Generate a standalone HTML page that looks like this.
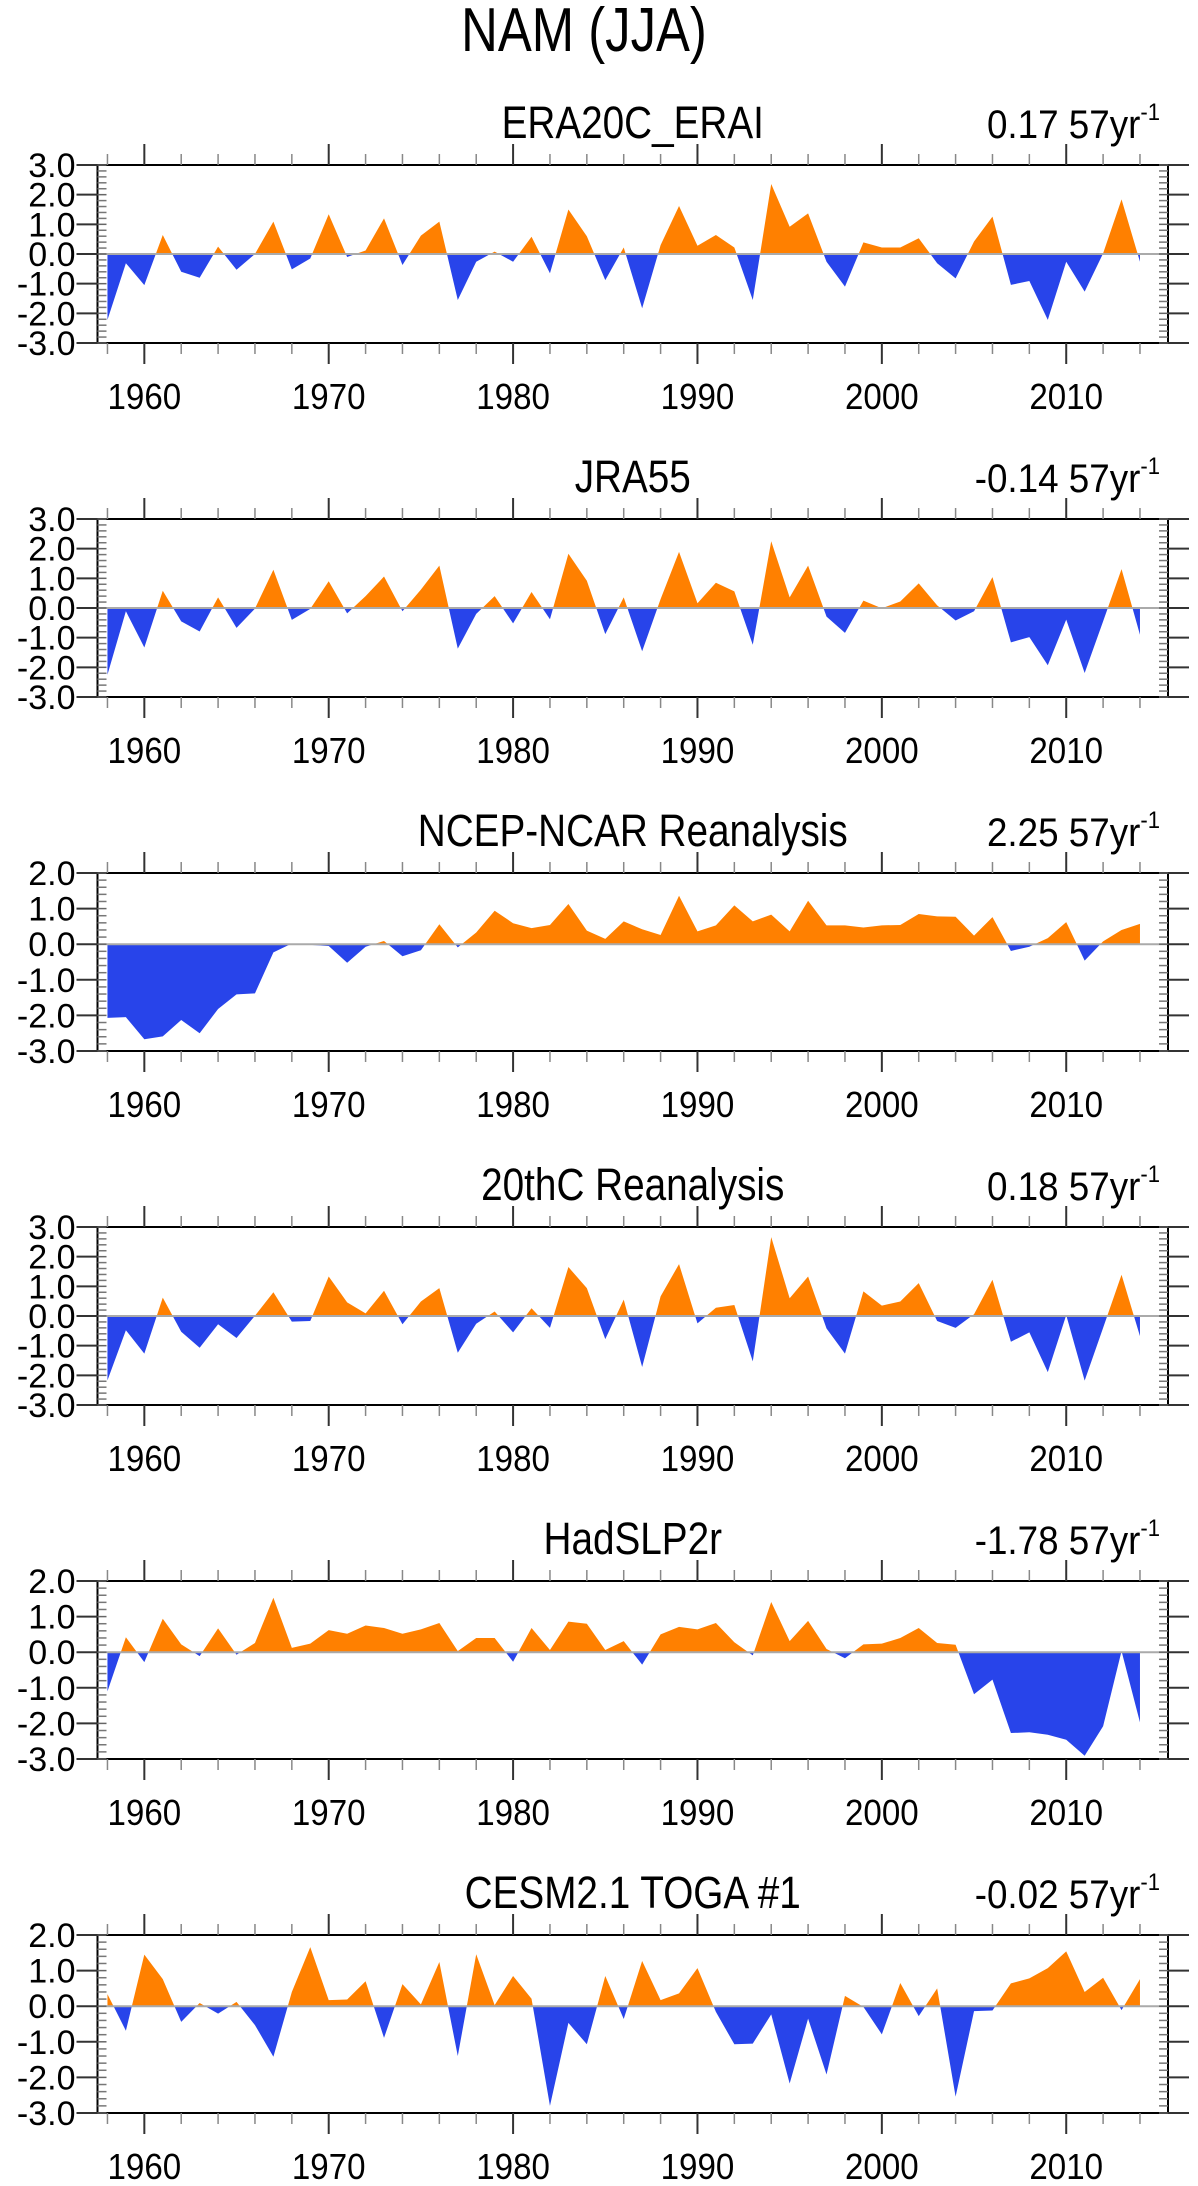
<!DOCTYPE html>
<html><head><meta charset="utf-8">
<style>
html,body{margin:0;padding:0;background:#fff;}
svg{display:block;font-family:"Liberation Sans",Arial,sans-serif;}
</style></head>
<body>
<svg id="fig" width="1198" height="2186" viewBox="0 0 1198 2186">
<text transform="translate(584,51) scale(0.82,1)" font-size="62" text-anchor="middle">NAM (JJA)</text>
</svg>
<script>
const years = [];
for (let y = 1958; y <= 2014; y++) years.push(y);
const panelTitles = ["ERA20C_ERAI","JRA55","NCEP-NCAR Reanalysis","20thC Reanalysis","HadSLP2r","CESM2.1 TOGA #1"];
const trendLabels = ["0.17 57yr","-0.14 57yr","2.25 57yr","0.18 57yr","-1.78 57yr","-0.02 57yr"];
const yMaxes = [3,3,2,3,2,2];
const yMin = -3;
const yearTicks = [1960,1970,1980,1990,2000,2010];

const era20c = [-2.22,-0.31,-1.05,0.64,-0.6,-0.8,0.25,-0.53,0.0,1.09,-0.52,-0.15,1.34,-0.1,0.12,1.2,-0.37,0.62,1.09,-1.55,-0.26,0.08,-0.26,0.58,-0.65,1.5,0.6,-0.88,0.22,-1.83,0.3,1.62,0.28,0.64,0.22,-1.55,2.36,0.92,1.37,-0.26,-1.1,0.39,0.22,0.22,0.53,-0.31,-0.82,0.42,1.26,-1.04,-0.91,-2.22,-0.26,-1.27,0.02,1.84,-0.26];
const jra55 = [-2.25,-0.11,-1.33,0.58,-0.45,-0.79,0.36,-0.67,-0.02,1.29,-0.4,-0.03,0.9,-0.18,0.4,1.06,-0.11,0.62,1.43,-1.37,-0.2,0.4,-0.52,0.54,-0.38,1.83,0.92,-0.88,0.36,-1.46,0.3,1.89,0.16,0.85,0.56,-1.24,2.25,0.36,1.43,-0.29,-0.84,0.25,-0.01,0.22,0.83,0.09,-0.42,-0.11,1.04,-1.16,-0.98,-1.93,-0.39,-2.19,-0.45,1.31,-0.9];
const ncep = [-2.07,-2.05,-2.67,-2.59,-2.13,-2.5,-1.82,-1.41,-1.38,-0.23,0.02,-0.02,-0.05,-0.52,-0.07,0.09,-0.34,-0.17,0.56,-0.09,0.33,0.94,0.59,0.45,0.54,1.13,0.38,0.15,0.64,0.42,0.26,1.36,0.36,0.53,1.09,0.64,0.83,0.36,1.22,0.53,0.53,0.47,0.53,0.54,0.85,0.78,0.77,0.24,0.76,-0.19,-0.07,0.17,0.62,-0.46,0.08,0.4,0.57];
const c20 = [-2.17,-0.48,-1.27,0.62,-0.53,-1.07,-0.28,-0.74,0.01,0.8,-0.19,-0.17,1.33,0.46,0.09,0.85,-0.28,0.49,0.94,-1.24,-0.26,0.15,-0.55,0.26,-0.4,1.65,0.94,-0.78,0.55,-1.72,0.66,1.75,-0.25,0.28,0.37,-1.53,2.66,0.6,1.33,-0.42,-1.27,0.83,0.35,0.49,1.11,-0.17,-0.4,0.06,1.22,-0.87,-0.55,-1.89,0.03,-2.18,-0.4,1.39,-0.68];
const hadslp = [-1.1,0.42,-0.28,0.94,0.22,-0.11,0.67,-0.07,0.26,1.53,0.12,0.24,0.62,0.52,0.75,0.68,0.52,0.64,0.82,0.03,0.4,0.4,-0.27,0.68,0.06,0.86,0.8,0.06,0.31,-0.35,0.5,0.71,0.64,0.82,0.28,-0.09,1.41,0.31,0.88,0.09,-0.17,0.22,0.24,0.4,0.68,0.26,0.21,-1.18,-0.77,-2.27,-2.25,-2.32,-2.46,-2.91,-2.08,0.03,-1.97];
const cesm = [0.34,-0.69,1.45,0.76,-0.44,0.09,-0.21,0.12,-0.53,-1.42,0.4,1.66,0.17,0.19,0.7,-0.89,0.62,0.05,1.24,-1.4,1.46,0.03,0.85,0.21,-2.8,-0.47,-1.07,0.85,-0.36,1.27,0.17,0.36,1.07,-0.16,-1.07,-1.05,-0.23,-2.17,-0.35,-1.92,0.29,-0.02,-0.79,0.65,-0.28,0.5,-2.54,-0.14,-0.12,0.64,0.78,1.07,1.54,0.4,0.8,-0.11,0.76];
const series = [era20c,jra55,ncep,c20,hadslp,cesm];
const seriesNames = ["era20c","jra55","ncep","20thc","hadslp2r","cesm-toga"];

const NS = "http://www.w3.org/2000/svg";
const svg = document.getElementById("fig");
const L = 97.5, R = 1168, H = 178, X0 = 1957.46, X1 = 2015.52;
const panelTop0 = 165, panelStep = 354;
function xs(v){ return L + (v - X0) / (X1 - X0) * (R - L); }
function mk(tag, attrs, parent){ const e = document.createElementNS(NS, tag); for (const k in attrs) e.setAttribute(k, attrs[k]); (parent||svg).appendChild(e); return e; }
function tf(x, y, sx){ return "translate(" + x.toFixed(2) + "," + y.toFixed(2) + ") scale(" + sx + ",1)"; }

series.forEach((data, p) => {
  const top = panelTop0 + p * panelStep, bot = top + H;
  const yMax = yMaxes[p];
  const ys = v => top + (yMax - v) / (yMax - yMin) * H;
  const g = mk("g", {});
  
  
  const t = mk("text", {transform:tf((L+R)/2, top-27, 0.86), "font-size":45, "text-anchor":"middle"}, g);
  t.textContent = panelTitles[p];
  
  
  const tr = mk("text", {transform:tf(1160, top-27, 0.92), "font-size":40, "text-anchor":"end"}, g);
  tr.textContent = trendLabels[p];
  
  
  const sup = mk("tspan", {"font-size":24, dy:-18}, tr);
  sup.textContent = "-1";
  const z = ys(0);
  const cpA = mk("clipPath", {id:"ca"+p}, g); mk("rect", {x:L, y:top, width:R-L, height:z-top}, cpA);
  const cpB = mk("clipPath", {id:"cb"+p}, g); mk("rect", {x:L, y:z, width:R-L, height:bot-z}, cpB);
  let d = "M" + xs(years[0]) + "," + z;
  data.forEach((v,i) => { d += " L" + xs(years[i]).toFixed(2) + "," + ys(v).toFixed(2); });
  d += " L" + xs(years[years.length-1]) + "," + z + " Z";
  const pos = mk("path", {d:d, fill:"#ff8000", "clip-path":"url(#ca"+p+")"}, g);
  
  
  const neg = mk("path", {d:d, fill:"#2844ea", "clip-path":"url(#cb"+p+")"}, g);
  
  
  const zl = mk("line", {x1:L, x2:R, y1:z, y2:z, stroke:"#aaa", "stroke-width":2}, g);
  
  
  const box = mk("rect", {x:L, y:top, width:R-L, height:H, fill:"none", stroke:"#000", "stroke-width":2}, g);
  
  
  for (let k = yMin*5; k <= yMax*5; k++) {
    const v = k/5, y = ys(v);
    if (k % 5 === 0) {
      mk("line", {x1:L-21, x2:L, y1:y, y2:y, stroke:"#333", "stroke-width":2}, g);
      mk("line", {x1:R, x2:R+21, y1:y, y2:y, stroke:"#333", "stroke-width":2}, g);
      mk("line", {x1:L, x2:L+9, y1:y, y2:y, stroke:"#666", "stroke-width":1.5}, g);
      mk("line", {x1:R-9, x2:R, y1:y, y2:y, stroke:"#666", "stroke-width":1.5}, g);
      const lb = mk("text", {transform:tf(L-22, y+12, 1.0), "font-size":34, "text-anchor":"end"}, g);
      lb.textContent = v.toFixed(1);
      
      
    } else {
      mk("line", {x1:L, x2:L+9, y1:y, y2:y, stroke:"#777", "stroke-width":1.5}, g);
      mk("line", {x1:R-9, x2:R, y1:y, y2:y, stroke:"#777", "stroke-width":1.5}, g);
    }
  }
  for (let yr = 1958; yr <= 2014; yr += 2) {
    const x = xs(yr), major = yr % 10 === 0, len = major ? 21 : 11;
    mk("line", {x1:x, x2:x, y1:top-len, y2:top, stroke:major?"#333":"#888", "stroke-width":major?2:1.5}, g);
    mk("line", {x1:x, x2:x, y1:bot, y2:bot+len, stroke:major?"#333":"#888", "stroke-width":major?2:1.5}, g);
  }
  yearTicks.forEach(yr => {
    const lb = mk("text", {transform:tf(xs(yr), bot+66, 0.92), "font-size":36, "text-anchor":"middle"}, g);
    lb.textContent = yr;
    
    
  });
});
</script>
</body></html>
